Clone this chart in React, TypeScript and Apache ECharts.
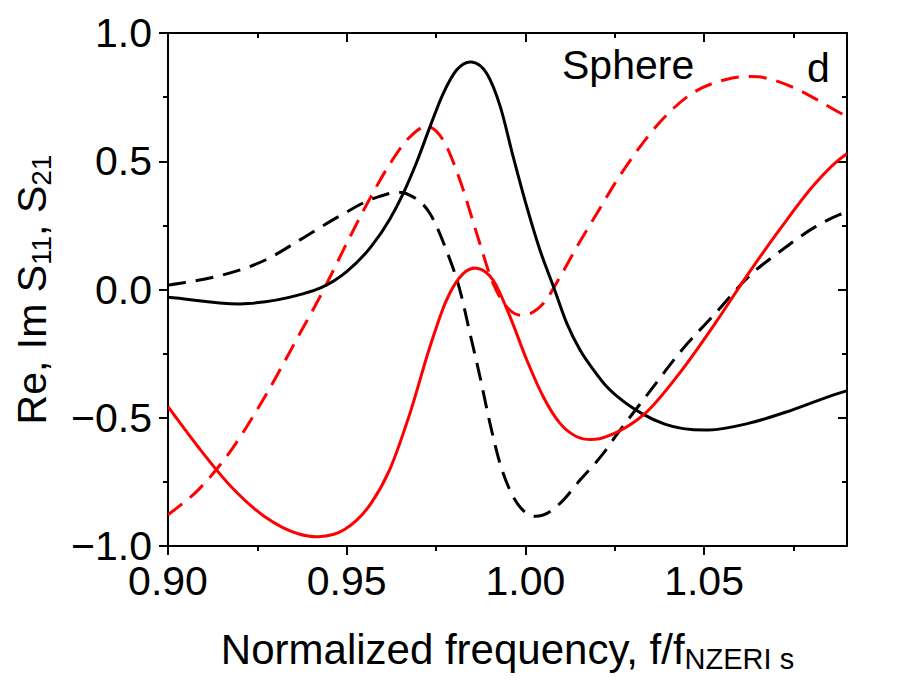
import React, { useEffect, useRef } from 'react';
import * as echarts from 'echarts';

const X_MIN = 0.9;
const X_MAX = 1.09;
const Y_MIN = -1;
const Y_MAX = 1;

const xMajorTicks = [0.9, 0.95, 1.0, 1.05];
const xMinorTicks = [0.925, 0.975, 1.025, 1.075];
const yMajorTicks = [-1, -0.5, 0, 0.5, 1];
const yMinorTicks = [-0.75, -0.25, 0.25, 0.75];

// black solid curve
const blackSolid: [number, number][] = [
  [0.9, -0.03], [0.9224, -0.055], [0.9364, -0.022], [0.943, 0.008], [0.95, 0.07],
  [0.957, 0.17], [0.9621, 0.275], [0.9658, 0.374], [0.9696, 0.497], [0.9733, 0.634],
  [0.977, 0.764], [0.9807, 0.855], [0.985, 0.887], [0.9892, 0.842], [0.993, 0.712],
  [0.9966, 0.517], [1.0004, 0.322], [1.0041, 0.153], [1.0079, 0.01], [1.0116, -0.132],
  [1.0153, -0.236], [1.0191, -0.314], [1.0228, -0.379], [1.0258, -0.418], [1.0325, -0.483],
  [1.039, -0.525], [1.0512, -0.548], [1.0624, -0.522], [1.0746, -0.47], [1.0876, -0.405],
  [1.09, -0.395],
];

// black dashed curve
const blackDashed: [number, number][] = [
  [0.9, 0.017], [0.9131, 0.049], [0.9271, 0.114], [0.9383, 0.205], [0.9476, 0.283],
  [0.9588, 0.361], [0.9658, 0.377], [0.9676, 0.368], [0.9733, 0.296], [0.9779, 0.153],
  [0.9817, -0.003], [0.9845, -0.171], [0.9873, -0.34], [0.9901, -0.522], [0.9929, -0.678],
  [0.9966, -0.808], [1.0004, -0.873], [1.005, -0.879], [1.0097, -0.834], [1.0153, -0.743],
  [1.0218, -0.639], [1.0251, -0.575], [1.0344, -0.405], [1.0438, -0.236], [1.0531, -0.094],
  [1.0624, 0.049], [1.0717, 0.153], [1.0811, 0.244], [1.0876, 0.29], [1.09, 0.302],
];

// red solid curve
const redSolid: [number, number][] = [
  [0.9, -0.457], [0.9084, -0.613], [0.9177, -0.769], [0.9271, -0.886], [0.9364, -0.952],
  [0.942, -0.964], [0.9495, -0.935], [0.957, -0.83], [0.9621, -0.7], [0.9677, -0.483],
  [0.9733, -0.223], [0.9779, -0.042], [0.9826, 0.062], [0.9868, 0.082], [0.991, 0.036],
  [0.9957, -0.106], [1.0004, -0.275], [1.005, -0.418], [1.0097, -0.522], [1.0144, -0.574],
  [1.0195, -0.584], [1.0258, -0.555], [1.0335, -0.483], [1.0438, -0.314], [1.0531, -0.132],
  [1.0624, 0.062], [1.0717, 0.244], [1.0811, 0.413], [1.0876, 0.504], [1.09, 0.53],
];

// red dashed curve
const redDashed: [number, number][] = [
  [0.9, -0.879], [0.9084, -0.782], [0.9177, -0.626], [0.9271, -0.418], [0.9364, -0.184],
  [0.943, -0.016], [0.9495, 0.166], [0.956, 0.342], [0.9621, 0.49], [0.9677, 0.595],
  [0.9733, 0.634], [0.977, 0.582], [0.9817, 0.426], [0.9864, 0.218], [0.991, 0.023],
  [0.9957, -0.081], [1.0013, -0.094], [1.005, -0.055], [1.0097, 0.049], [1.0144, 0.166],
  [1.02, 0.296], [1.0258, 0.43], [1.0307, 0.53], [1.0373, 0.647], [1.0466, 0.764],
  [1.0559, 0.818], [1.0652, 0.829], [1.0746, 0.79], [1.0811, 0.744], [1.0876, 0.692],
  [1.09, 0.675],
];

const FONT = "'Liberation Sans', Arial, sans-serif";
const RED = '#ff0000';
const BLACK = '#000000';

// Smooth path (cubic Hermite in pixel space) through the points placed by the axes.
function smoothPath(pts: number[][]): string {
  const n = pts.length;
  if (n < 2) return '';
  const d: number[] = [];
  const h: number[] = [];
  for (let i = 0; i < n - 1; i++) {
    h.push(pts[i + 1][0] - pts[i][0]);
    d.push((pts[i + 1][1] - pts[i][1]) / (pts[i + 1][0] - pts[i][0]));
  }
  const s: number[] = [];
  for (let i = 0; i < n; i++) {
    if (i === 0) s.push(d[0]);
    else if (i === n - 1) s.push(d[n - 2]);
    else s.push((h[i - 1] * d[i] + h[i] * d[i - 1]) / (h[i - 1] + h[i]));
  }
  let p = `M${pts[0][0]},${pts[0][1]}`;
  for (let i = 0; i < n - 1; i++) {
    const k = h[i] / 3;
    const c1x = pts[i][0] + k;
    const c1y = pts[i][1] + s[i] * k;
    const c2x = pts[i + 1][0] - k;
    const c2y = pts[i + 1][1] - s[i + 1] * k;
    p += ` C${c1x},${c1y} ${c2x},${c2y} ${pts[i + 1][0]},${pts[i + 1][1]}`;
  }
  return p;
}

export default function App() {
  const ref = useRef<HTMLDivElement>(null);

  useEffect(() => {
    const chart = echarts.init(ref.current!, null, { renderer: 'svg' });
    const gridRect = { left: 168, right: 50, top: 33, bottom: 141 };
    const lineStyle = { color: BLACK, width: 2 };

    const xAxisBase = (gridIndex: number, position: string) => ({
      type: 'value',
      gridIndex,
      position,
      min: X_MIN,
      max: X_MAX,
      interval: 0.05,
      splitLine: { show: false },
    });
    const yAxisBase = (gridIndex: number, position: string) => ({
      type: 'value',
      gridIndex,
      position,
      min: Y_MIN,
      max: Y_MAX,
      interval: 0.5,
      splitLine: { show: false },
    });

    const curveSeries = (data: [number, number][], color: string, dashed: boolean, name: string) => ({
      type: 'custom',
      name,
      xAxisIndex: 0,
      yAxisIndex: 0,
      data,
      encode: { x: 0, y: 1 },
      clip: true,
      z: 3,
      renderItem: (params: any, api: any) => {
        if (params.dataIndex !== 0) return null;
        const pts = data.map((pt) => api.coord(pt));
        return {
          type: 'path',
          shape: { pathData: smoothPath(pts) },
          style: {
            fill: 'none',
            stroke: color,
            lineWidth: 3,
            lineDash: dashed ? [18, 10] : null,
            lineCap: 'butt',
            lineJoin: 'round',
          },
        };
      },
    });

    chart.setOption({
      animation: false,
      backgroundColor: '#ffffff',
      grid: [
        { ...gridRect, containLabel: false },
        { ...gridRect, containLabel: false },
      ],
      xAxis: [
        {
          ...xAxisBase(0, 'bottom'),
          axisLine: { show: true, onZero: false, lineStyle },
          axisTick: { show: true, inside: false, length: 9, lineStyle, customValues: xMajorTicks },
          axisLabel: {
            show: true,
            customValues: xMajorTicks,
            margin: 14,
            color: BLACK,
            fontSize: 41,
            fontFamily: FONT,
            formatter: (v: number) => v.toFixed(2),
          },
          name: '{a|Normalized frequency, f/f}{s|NZERI s}',
          nameLocation: 'middle',
          nameGap: 80,
          nameTextStyle: {
            rich: {
              a: { fontSize: 42, fontFamily: FONT, color: BLACK, lineHeight: 47 },
              s: { fontSize: 29, fontFamily: FONT, color: BLACK, lineHeight: 20, verticalAlign: 'bottom' },
            },
          },
        },
        {
          ...xAxisBase(0, 'top'),
          axisLine: { show: true, onZero: false, lineStyle },
          axisTick: { show: true, inside: true, length: 9, lineStyle, customValues: xMajorTicks },
          axisLabel: { show: false },
        },
        {
          ...xAxisBase(1, 'bottom'),
          axisLine: { show: false, onZero: false },
          axisTick: { show: true, inside: false, length: 5, lineStyle, customValues: xMinorTicks },
          axisLabel: { show: false },
        },
        {
          ...xAxisBase(1, 'top'),
          axisLine: { show: false, onZero: false },
          axisTick: { show: true, inside: true, length: 5, lineStyle, customValues: xMinorTicks },
          axisLabel: { show: false },
        },
      ],
      yAxis: [
        {
          ...yAxisBase(0, 'left'),
          axisLine: { show: true, onZero: false, lineStyle },
          axisTick: { show: true, inside: false, length: 9, lineStyle, customValues: yMajorTicks },
          axisLabel: {
            show: true,
            customValues: yMajorTicks,
            margin: 16,
            color: BLACK,
            fontSize: 41,
            fontFamily: FONT,
            formatter: (v: number) => (v < 0 ? '\u2212' : '') + Math.abs(v).toFixed(1),
          },
          name: '{a|Re, Im S}{s|11}{a|, S}{s|21}',
          nameLocation: 'middle',
          nameGap: 113,
          nameRotate: 90,
          nameTextStyle: {
            rich: {
              a: { fontSize: 41, fontFamily: FONT, color: BLACK, lineHeight: 46 },
              s: { fontSize: 28, fontFamily: FONT, color: BLACK, lineHeight: 20, verticalAlign: 'bottom' },
            },
          },
        },
        {
          ...yAxisBase(0, 'right'),
          axisLine: { show: true, onZero: false, lineStyle },
          axisTick: { show: true, inside: true, length: 9, lineStyle, customValues: yMajorTicks },
          axisLabel: { show: false },
        },
        {
          ...yAxisBase(1, 'left'),
          axisLine: { show: false, onZero: false },
          axisTick: { show: true, inside: false, length: 5, lineStyle, customValues: yMinorTicks },
          axisLabel: { show: false },
        },
        {
          ...yAxisBase(1, 'right'),
          axisLine: { show: false, onZero: false },
          axisTick: { show: true, inside: true, length: 5, lineStyle, customValues: yMinorTicks },
          axisLabel: { show: false },
        },
      ],
      series: [
        curveSeries(blackDashed, BLACK, true, 'black dashed'),
        curveSeries(redDashed, RED, true, 'red dashed'),
        curveSeries(blackSolid, BLACK, false, 'black solid'),
        curveSeries(redSolid, RED, false, 'red solid'),
      ],
      graphic: [
        {
          type: 'text',
          left: 562,
          top: 44,
          style: { text: 'Sphere', font: `41px ${FONT}`, fill: BLACK },
          z: 10,
        },
        {
          type: 'text',
          left: 807,
          top: 47,
          style: { text: 'd', font: `41px ${FONT}`, fill: BLACK },
          z: 10,
        },
      ],
    });

    return () => chart.dispose();
  }, []);

  return (
    <div
      ref={ref}
      style={{ position: 'fixed', left: 0, top: 0, width: 897, height: 687, background: '#fff' }}
    />
  );
}
